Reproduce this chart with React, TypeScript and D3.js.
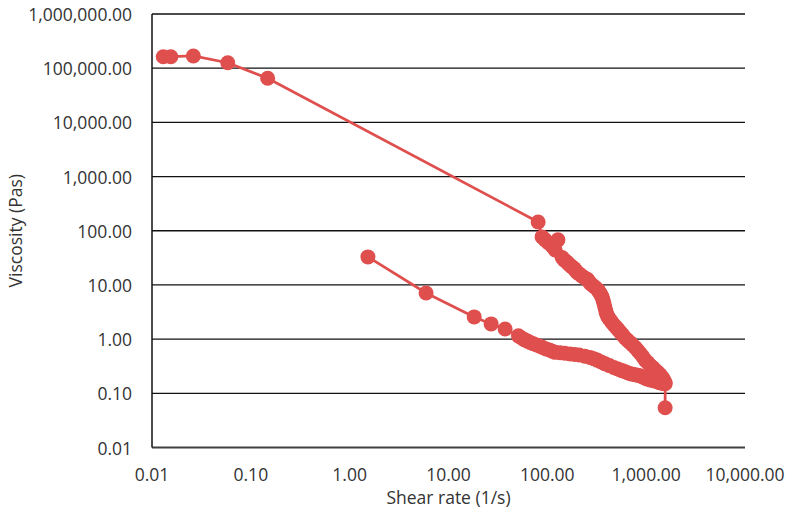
import React from "react";
import * as d3 from "d3";

// Upper branch (increasing shear rate)
const upperShear = [0.013, 0.0155, 0.0262, 0.0584, 0.148, 80.7, 88.5, 95, 102, 112, 128, 120, 141, 148, 155, 162, 170, 178, 187, 193, 200, 212, 225, 238, 253, 262, 271, 288, 305, 325, 334, 342, 350, 359, 365, 372, 378, 385, 392, 400, 410, 420, 436, 453, 475, 497, 520, 546, 578, 613, 650, 689, 730, 774, 820, 869, 920, 977, 1035, 1097, 1165, 1233, 1310, 1386, 1440, 1486, 1520, 1556];
const upperVisc = [163000, 163000, 168000, 126000, 65100, 145, 77, 68, 60, 52, 68, 44, 32, 29, 27, 25, 23, 21.5, 20, 18.5, 17, 15.8, 14.5, 13.6, 12.8, 11.8, 10.8, 9.8, 9, 8.1, 7.5, 7, 6.5, 6, 5.3, 4.8, 4.2, 3.7, 3.2, 2.85, 2.6, 2.4, 2.2, 2.0, 1.8, 1.65, 1.5, 1.35, 1.2, 1.05, 0.95, 0.86, 0.78, 0.7, 0.62, 0.55, 0.48, 0.41, 0.37, 0.33, 0.3, 0.27, 0.245, 0.22, 0.2, 0.185, 0.17, 0.156];

// Single low point at maximum shear rate
const dropShear = [1556];
const dropVisc = [0.054];

// Lower branch (decreasing shear rate)
const lowerShear = [1556, 1470, 1386, 1310, 1233, 1165, 1097, 1035, 977, 920, 869, 820, 774, 730, 689, 650, 613, 580, 546, 508, 470, 425, 385, 350, 320, 295, 271, 240, 210, 190, 170, 150, 135, 120, 112, 105, 97, 90, 84, 78, 72, 67, 63, 59, 55, 51, 37.4, 27.0, 18.2, 5.93, 1.53];
const lowerVisc = [0.15, 0.152, 0.156, 0.162, 0.168, 0.172, 0.177, 0.183, 0.19, 0.2, 0.21, 0.215, 0.22, 0.225, 0.23, 0.24, 0.25, 0.26, 0.27, 0.285, 0.3, 0.325, 0.35, 0.38, 0.41, 0.435, 0.46, 0.485, 0.51, 0.52, 0.53, 0.55, 0.56, 0.57, 0.6, 0.63, 0.66, 0.7, 0.74, 0.78, 0.82, 0.87, 0.92, 0.97, 1.05, 1.15, 1.54, 1.91, 2.57, 7.1, 32.9];

const xTicks = [0.01, 0.1, 1, 10, 100, 1000, 10000];
const yTicks = [0.01, 0.1, 1, 10, 100, 1000, 10000, 100000, 1000000];

const xTitle = "Shear rate (1/s)";
const yTitle = "Viscosity (Pas)";

const W = 793;
const H = 515;
const left = 152;
const right = 745;
const top = 14;
const bottom = 447.5;
const color = "#DF4F4D";
const font = "'Open Sans', 'Noto Sans', sans-serif";
const fs = 17.5;

const fmt = (v: number) =>
  v.toLocaleString("en-US", { minimumFractionDigits: 2, maximumFractionDigits: 2 });

export default function App() {
  const x = d3.scaleLog().domain([0.01, 10000]).range([left, right]);
  const y = d3.scaleLog().domain([0.01, 1000000]).range([bottom, top]);

  const pts: [number, number][] = [
    ...upperShear.map((s, i) => [s, upperVisc[i]] as [number, number]),
    ...dropShear.map((s, i) => [s, dropVisc[i]] as [number, number]),
    ...lowerShear.map((s, i) => [s, lowerVisc[i]] as [number, number]),
  ];
  const line = d3
    .line<[number, number]>()
    .x((d) => x(d[0]))
    .y((d) => y(d[1]));

  return (
    <svg
      width={W}
      height={H}
      style={{ position: "absolute", left: 0, top: 0, background: "#fff" }}
      fontFamily={font}
    >
      <rect x={0} y={0} width={W} height={H} fill="#fff" />
      {yTicks.map((t) => (
        <line
          key={"g" + t}
          x1={left}
          x2={right}
          y1={y(t)}
          y2={y(t)}
          stroke={t === 0.01 ? "#404040" : "#111"}
          strokeWidth={t === 0.01 ? 2 : 1.3}
        />
      ))}
      <line x1={left} x2={left} y1={top} y2={bottom} stroke="#111" strokeWidth={1.5} />
      {yTicks.map((t) => (
        <text
          key={"yl" + t}
          x={132}
          y={y(t)}
          textAnchor="end"
          dominantBaseline="central"
          fontSize={fs}
          fill="#333"
        >
          {fmt(t)}
        </text>
      ))}
      {xTicks.map((t) => (
        <text
          key={"xl" + t}
          x={x(t)}
          y={474}
          textAnchor="middle"
          dominantBaseline="central"
          fontSize={fs}
          fill="#333"
        >
          {fmt(t)}
        </text>
      ))}
      <text
        x={(left + right) / 2}
        y={497}
        textAnchor="middle"
        dominantBaseline="central"
        fontSize={fs}
        fill="#333"
      >
        {xTitle}
      </text>
      <text
        transform={`translate(15,${(top + bottom) / 2}) rotate(-90)`}
        textAnchor="middle"
        dominantBaseline="central"
        fontSize={fs}
        fill="#333"
      >
        {yTitle}
      </text>
      <path d={line(pts) || ""} fill="none" stroke={color} strokeWidth={2.75} />
      {pts.map((d, i) => (
        <circle key={"p" + i} cx={x(d[0])} cy={y(d[1])} r={7.5} fill={color} />
      ))}
    </svg>
  );
}
